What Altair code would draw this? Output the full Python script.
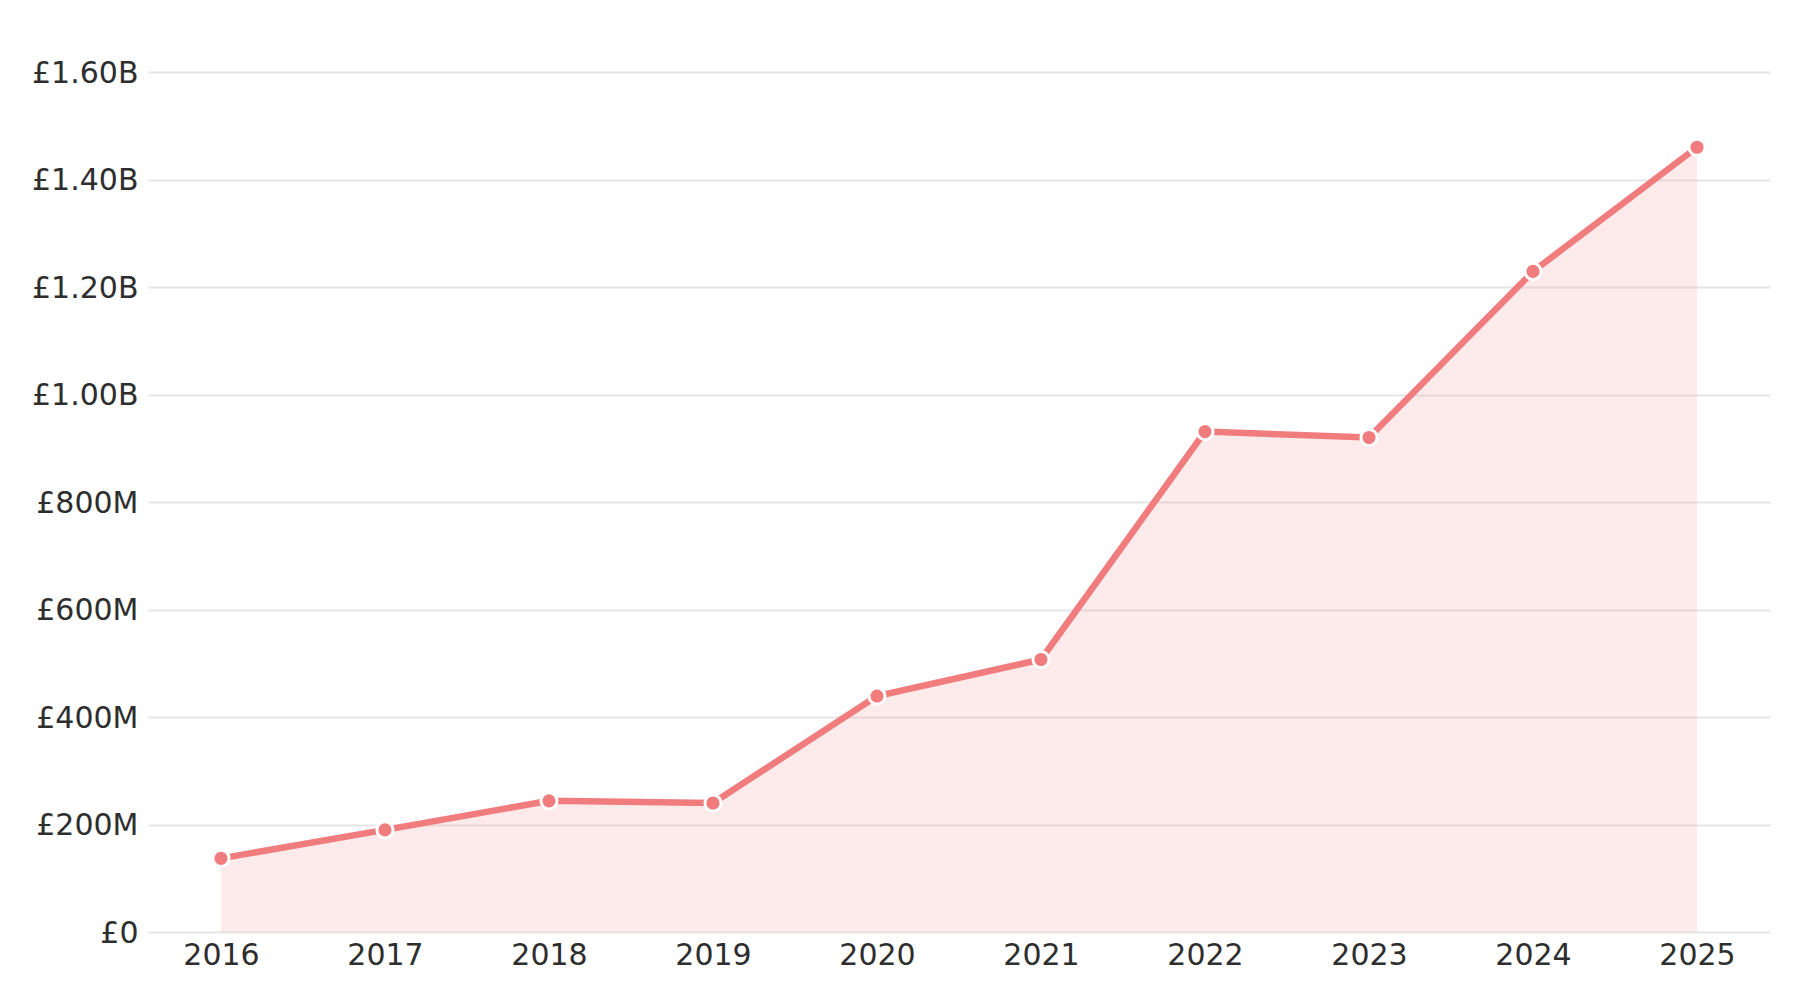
import altair as alt
import pandas as pd

years = ["2016", "2017", "2018", "2019", "2020", "2021", "2022", "2023", "2024", "2025"]
values = [137e6, 190e6, 244e6, 240e6, 439e6, 507e6, 931e6, 920e6, 1229e6, 1460e6]
y_ticks = [0, 2e8, 4e8, 6e8, 8e8, 1.0e9, 1.2e9, 1.4e9, 1.6e9]

df = pd.DataFrame({"year": years, "value": values})

LINE = "#f07c7e"
FONT = "DejaVu Sans"

x = alt.X("year:O", scale=alt.Scale(type="point", padding=0.445),
          axis=alt.Axis(title=None, labelAngle=0, ticks=False, domain=False, grid=False,
                        labelPadding=8, labelFontSize=30, labelFont=FONT, labelColor="#2e2e2e"))
y = alt.Y("value:Q", scale=alt.Scale(domain=[0, 1.6e9], nice=False),
          axis=alt.Axis(title=None, values=y_ticks, ticks=False, domain=False, grid=True,
                        gridColor="#e6e6e6", gridWidth=2, labelPadding=10, labelFontSize=30,
                        labelFont=FONT, labelColor="#2e2e2e", labelOffset=1,
                        labelExpr="datum.value == 0 ? '£0' : (datum.value >= 1e9 ? '£' + format(datum.value/1e9, '.2f') + 'B' : '£' + format(datum.value/1e6, '.0f') + 'M')"))

base = alt.Chart(df)
area = base.mark_area(color=LINE, opacity=0.15).encode(x=x, y=y)
line = base.mark_line(color=LINE, strokeWidth=6.5).encode(x=x, y=y)
pts = base.mark_point(filled=True, color=LINE, size=260, stroke="white", strokeWidth=3, opacity=1).encode(x=x, y=y)

chart = (area + line + pts).properties(
    width=1622, height=860,
    autosize=alt.AutoSizeParams(type="none"),
    padding={"left": 140, "top": 64, "right": 20, "bottom": 60},
).configure(background="white").configure_view(stroke=None, strokeWidth=0)

chart.save("out.html", embed_options={"renderer": "svg", "actions": False})
